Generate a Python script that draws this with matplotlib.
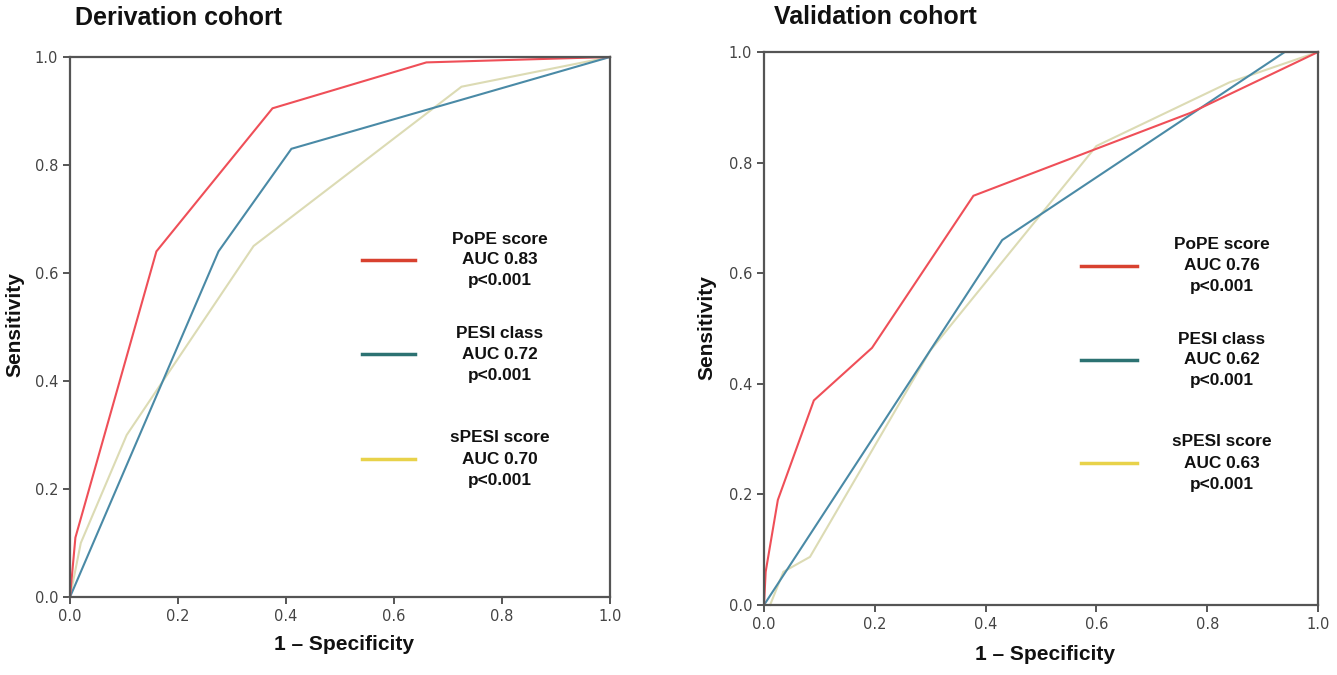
import matplotlib
matplotlib.use("Agg")
import matplotlib.pyplot as plt

# Derivation cohort
der_pope_x = [0.0, 0.01, 0.16, 0.375, 0.66, 1.0]
der_pope_y = [0.0, 0.11, 0.64, 0.905, 0.99, 1.0]
der_pesi_x = [0.0, 0.275, 0.41, 1.0]
der_pesi_y = [0.0, 0.64, 0.83, 1.0]
der_spesi_x = [0.0, 0.02, 0.105, 0.34, 0.725, 1.0]
der_spesi_y = [0.0, 0.10, 0.30, 0.65, 0.945, 1.0]

# Validation cohort
val_pope_x = [0.0, 0.003, 0.025, 0.09, 0.195, 0.378, 0.6, 0.77, 1.0]
val_pope_y = [0.0, 0.06, 0.19, 0.37, 0.465, 0.74, 0.825, 0.89, 1.0]
val_pesi_x = [0.0, 0.43, 0.94, 1.0]
val_pesi_y = [0.0, 0.66, 1.0, 1.0]
val_spesi_x = [0.011, 0.035, 0.083, 0.30, 0.6, 0.84, 1.0]
val_spesi_y = [0.0, 0.06, 0.087, 0.46, 0.83, 0.945, 1.0]

der_legend = ["PoPE score\nAUC 0.83\np<0.001", "PESI class\nAUC 0.72\np<0.001", "sPESI score\nAUC 0.70\np<0.001"]
val_legend = ["PoPE score\nAUC 0.76\np<0.001", "PESI class\nAUC 0.62\np<0.001", "sPESI score\nAUC 0.63\np<0.001"]
ticks = [0.0, 0.2, 0.4, 0.6, 0.8, 1.0]
tick_labels = ["0.0", "0.2", "0.4", "0.6", "0.8", "1.0"]

curve_colors = ["#EF4F58", "#4A8AA6", "#DCDBB4"]
legend_colors = ["#D8412F", "#2C7272", "#E8D24A"]

W, H = 1337, 675
fig = plt.figure(figsize=(W / 100, H / 100), dpi=100)

def px_axes(x0, x1, ytop, ybot):
    return fig.add_axes([x0 / W, 1 - ybot / H, (x1 - x0) / W, (ybot - ytop) / H])

ax1 = px_axes(70, 610, 57, 597)
ax2 = px_axes(764, 1318, 52, 605)

def style(ax):
    ax.set_xlim(0, 1)
    ax.set_ylim(0, 1)
    ax.set_xticks(ticks)
    ax.set_xticklabels(tick_labels)
    ax.set_yticks(ticks)
    ax.set_yticklabels(tick_labels)
    for s in ax.spines.values():
        s.set_color("#555555")
        s.set_linewidth(1.6)
    ax.tick_params(direction="out", length=5, width=1.4, color="#555555",
                   labelsize=10.5, labelcolor="#444444")

for ax, data in [
    (ax1, [(der_pope_x, der_pope_y), (der_pesi_x, der_pesi_y), (der_spesi_x, der_spesi_y)]),
    (ax2, [(val_pope_x, val_pope_y), (val_pesi_x, val_pesi_y), (val_spesi_x, val_spesi_y)]),
]:
    for (x, y), c in zip(reversed(data), reversed(curve_colors)):
        ax.plot(x, y, color=c, lw=1.5, clip_on=False, solid_joinstyle="miter")
    style(ax)

bold = dict(family="Liberation Sans", fontweight="bold", color="#111111")

fig.text(75 / W, 1 - 18 / H, "Derivation cohort", fontsize=18, ha="left", va="center", **bold)
fig.text(774 / W, 1 - 17 / H, "Validation cohort", fontsize=18, ha="left", va="center", **bold)
fig.text(344 / W, 1 - 645 / H, "1 \u2013 Specificity", fontsize=15, ha="center", va="center", **bold)
fig.text(1045 / W, 1 - 655 / H, "1 \u2013 Specificity", fontsize=15, ha="center", va="center", **bold)
fig.text(15 / W, 1 - 325 / H, "Sensitivity", fontsize=15, rotation=90, ha="center", va="center", **bold)
fig.text(707 / W, 1 - 328 / H, "Sensitivity", fontsize=15, rotation=90, ha="center", va="center", **bold)

def legend(xl0, xl1, ys, xt, labels):
    for y, c, lab in zip(ys, legend_colors, labels):
        fig.add_artist(plt.Line2D([xl0 / W, xl1 / W], [1 - y / H, 1 - y / H], color=c, lw=2.5))
        fig.text(xt / W, 1 - y / H, lab, fontsize=12.4, ha="center", va="center",
                 linespacing=1.5, multialignment="center", **bold)

legend(362, 415, [260, 354, 459], 500, der_legend)
legend(1081, 1137, [266, 360, 463], 1222, val_legend)

fig.savefig("out.png", dpi=100)
